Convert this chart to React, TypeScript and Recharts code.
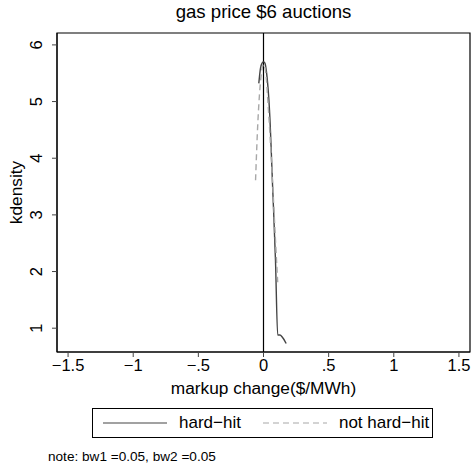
import { LineChart, Line, XAxis, YAxis, ReferenceLine, ReferenceArea, Legend, Label } from 'recharts'

// kernel density, hard-hit auctions
const hardHitX = [-0.036, -0.023, -0.011, 0, 0.011, 0.023, 0.046, 0.071, 0.092, 0.109, 0.126, 0.145, 0.174]
const hardHitY = [5.32, 5.59, 5.68, 5.7, 5.68, 5.52, 4.85, 3.44, 2.2, 0.88, 0.88, 0.84, 0.73]
// kernel density, not hard-hit auctions
const notHardX = [-0.061, -0.046, -0.031, -0.015, 0, 0.015, 0.038, 0.069, 0.092, 0.109]
const notHardY = [3.61, 4.5, 5.12, 5.52, 5.66, 5.56, 4.85, 3.61, 2.55, 1.81]

const xTicks = [-1.5, -1, -0.5, 0, 0.5, 1, 1.5]
const xTickLabels = ['\u22121.5', '\u22121', '\u2212.5', '0', '.5', '1', '1.5']
const yTicks = [1, 2, 3, 4, 5, 6]
const seriesNames = ['hard\u2212hit', 'not hard\u2212hit']

const X_DOMAIN: [number, number] = [-1.585, 1.585]
const Y_DOMAIN: [number, number] = [0.58, 6.21]
const FONT = '"Liberation Sans", Arial, Helvetica, sans-serif'

const hardHit = hardHitX.map((x, i) => ({ x, y: hardHitY[i] }))
const notHard = notHardX.map((x, i) => ({ x, y: notHardY[i] }))

function YTick({ x, y, payload }: any) {
  const tx = x - 8
  return (
    <text
      x={tx}
      y={y}
      transform={`rotate(-90 ${tx} ${y})`}
      textAnchor="middle"
      fontSize={16.5}
      fontFamily={FONT}
      fill="#000"
    >
      {payload.value}
    </text>
  )
}

function LegendBox({ payload }: any) {
  return (
    <div
      style={{
        border: '1px solid #000',
        height: 30,
        boxSizing: 'border-box',
        display: 'flex',
        alignItems: 'center',
        fontFamily: FONT,
        fontSize: 17,
        background: '#fff',
        whiteSpace: 'nowrap',
      }}
    >
      {(payload ?? []).map((p: any, i: number) => (
        <div key={p.value} style={{ display: 'flex', alignItems: 'center', marginLeft: i === 0 ? 10 : 22 }}>
          <svg width={64} height={6}>
            <line
              x1={0}
              y1={3}
              x2={64}
              y2={3}
              stroke={p.color}
              strokeWidth={1.2}
              strokeDasharray={p.payload?.strokeDasharray}
            />
          </svg>
          <span style={{ marginLeft: 12 }}>{p.value}</span>
        </div>
      ))}
    </div>
  )
}

export default function App() {
  return (
    <div style={{ position: 'absolute', left: 0, top: 0, width: 472, height: 470, background: '#fff' }}>
      <div
        style={{
          position: 'absolute',
          left: 57,
          width: 413,
          top: 1,
          textAlign: 'center',
          fontFamily: FONT,
          fontSize: 18.6,
        }}
      >
        gas price $6 auctions
      </div>
      <LineChart width={472} height={470} margin={{ top: 33, right: 2, left: 0, bottom: 48 }}>
        <XAxis
          dataKey="x"
          type="number"
          domain={X_DOMAIN}
          ticks={xTicks}
          tickFormatter={(v: number) => xTickLabels[xTicks.indexOf(v)] ?? String(v)}
          allowDataOverflow
          height={40}
          tickSize={5}
          tickLine={{ stroke: '#444' }}
          axisLine={{ stroke: '#000' }}
          tick={{ fontSize: 16.5, fontFamily: FONT, fill: '#000' }}
        >
          <Label
            value="markup change($/MWh)"
            position="insideBottom"
            offset={-2}
            style={{ fontSize: 17.3, fontFamily: FONT, fill: '#000' }}
          />
        </XAxis>
        <YAxis
          type="number"
          domain={Y_DOMAIN}
          ticks={yTicks}
          allowDataOverflow
          width={57}
          tickSize={5}
          tickLine={{ stroke: '#444' }}
          axisLine={{ stroke: '#000' }}
          tick={<YTick />}
        >
          <Label
            value="kdensity"
            angle={-90}
            position="insideLeft"
            offset={16}
            style={{ fontSize: 17.3, fontFamily: FONT, fill: '#000', textAnchor: 'middle' }}
          />
        </YAxis>
        <ReferenceArea x1={X_DOMAIN[0]} x2={X_DOMAIN[1]} y1={Y_DOMAIN[0]} y2={Y_DOMAIN[1]} fill="none" stroke="#000" strokeWidth={1.2} />
        <ReferenceLine x={0} stroke="#000" strokeWidth={1.2} />
        <Line
          data={hardHit}
          dataKey="y"
          name={seriesNames[0]}
          type="monotone"
          stroke="#444"
          strokeWidth={1.4}
          dot={false}
          isAnimationActive={false}
        />
        <Line
          data={notHard}
          dataKey="y"
          name={seriesNames[1]}
          type="monotone"
          stroke="#a8a8a8"
          strokeWidth={1.4}
          strokeDasharray="6 4"
          dot={false}
          isAnimationActive={false}
        />
        <Legend
          content={<LegendBox />}
          wrapperStyle={{ position: 'absolute', left: 92, top: 408, width: 341, height: 30, bottom: 'auto' }}
        />
      </LineChart>
      <div style={{ position: 'absolute', left: 48, top: 449, fontFamily: FONT, fontSize: 13.6 }}>
        note: bw1 =0.05, bw2 =0.05
      </div>
    </div>
  )
}
